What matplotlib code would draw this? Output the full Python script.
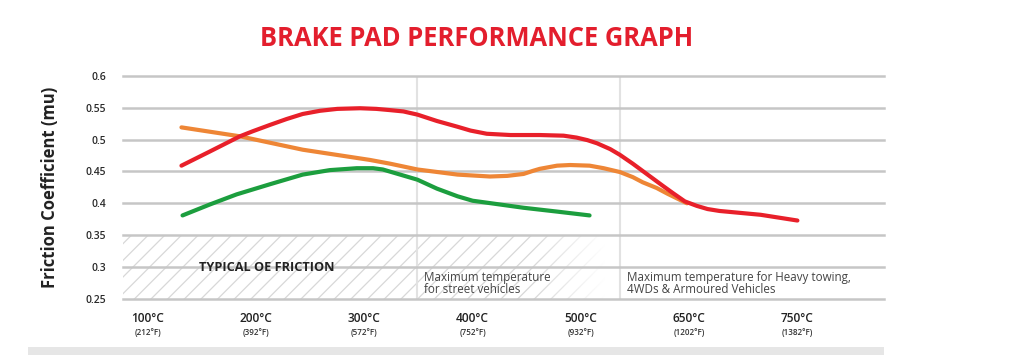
import numpy as np
import matplotlib
matplotlib.use("Agg")
import matplotlib.pyplot as plt
from matplotlib.patches import Rectangle

# ---- data (x = category position index, 0 = 100°C ... 6 = 750°C) ----
temps_c = ["100°C", "200°C", "300°C", "400°C", "500°C", "650°C", "750°C"]
temps_f = ["(212°F)", "(392°F)", "(572°F)", "(752°F)", "(932°F)", "(1202°F)", "(1382°F)"]
y_ticks = [0.25, 0.3, 0.35, 0.4, 0.45, 0.5, 0.55, 0.6]
y_tick_labels = ["0.25", "0.3", "0.35", "0.4", "0.45", "0.5", "0.55", "0.6"]

red_x = [0.31, 0.57, 0.85, 0.97, 1.13, 1.28, 1.43, 1.59, 1.75, 1.96, 2.11, 2.24, 2.36,
         2.49, 2.67, 2.86, 2.98, 3.13, 3.35, 3.62, 3.84, 3.96, 4.06, 4.15, 4.27, 4.36,
         4.48, 4.64, 4.76, 4.85, 4.96, 5.07, 5.17, 5.28, 5.66, 6.00]
red_y = [0.459, 0.481, 0.505, 0.513, 0.523, 0.532, 0.540, 0.545, 0.548, 0.549, 0.548, 0.546, 0.544,
         0.539, 0.529, 0.520, 0.514, 0.509, 0.507, 0.507, 0.506, 0.503, 0.499, 0.494, 0.485, 0.476,
         0.462, 0.442, 0.427, 0.416, 0.403, 0.396, 0.391, 0.388, 0.382, 0.373]

orange_x = [0.31, 0.85, 1.43, 2.05, 2.24, 2.49, 2.86, 3.16, 3.32, 3.47, 3.56, 3.62, 3.78,
            3.90, 4.08, 4.21, 4.36, 4.48, 4.57, 4.70, 4.80, 4.98]
orange_y = [0.519, 0.505, 0.484, 0.468, 0.462, 0.453, 0.445, 0.442, 0.443, 0.446, 0.451, 0.454, 0.459,
            0.460, 0.459, 0.455, 0.449, 0.441, 0.433, 0.424, 0.415, 0.400]

green_x = [0.32, 0.57, 0.82, 1.13, 1.43, 1.68, 1.93, 2.08, 2.17, 2.33, 2.49, 2.67, 2.86,
           3.00, 3.13, 3.47, 3.78, 4.08]
green_y = [0.381, 0.398, 0.414, 0.430, 0.445, 0.452, 0.455, 0.455, 0.453, 0.445, 0.437, 0.423, 0.411,
           0.404, 0.401, 0.393, 0.387, 0.381]

oe_band = (0.25, 0.35)
street_limit_x = 2.49
heavy_limit_x = 4.36

RED = "#e8202a"
ORANGE = "#ee8636"
GREEN = "#1c9e3e"

plt.rcParams['font.family'] = ['Open Sans', 'DejaVu Sans']
plt.rcParams['hatch.linewidth'] = 0.9

fig = plt.figure(figsize=(10.24, 3.55), dpi=100)
fig.patch.set_facecolor("white")

W, H = 1024, 355
left_px, right_px = 123, 884
top_px, bot_px = 75.7, 299.0
ax = fig.add_axes([left_px / W, 1 - bot_px / H, (right_px - left_px) / W, (bot_px - top_px) / H])
for s in ax.spines.values():
    s.set_visible(False)
ax.set_facecolor("none")

# horizontal grid
for yv in y_ticks:
    ax.axhline(yv, color="#c6c6c6", lw=1.8, zorder=3, clip_on=False)
# vertical limits
for xv in (street_limit_x, heavy_limit_x):
    ax.axvline(xv, color="#e2e2e2", lw=1.5, zorder=1)

# hatched OE band
rect = Rectangle((-0.23, oe_band[0]), 4.45, oe_band[1] - oe_band[0], facecolor="none",
                 edgecolor="#d8d8d8", hatch="//", lw=0, zorder=0.5)
ax.add_patch(rect)
# fade at right end of band
grad = np.ones((2, 256, 4))
grad[..., 3] = np.linspace(0, 1, 256)[None, :]
ax.imshow(grad, extent=(3.55, 4.22, oe_band[0], oe_band[1]), aspect="auto", zorder=0.8,
          interpolation="bilinear")
ax.set_xlim(-0.23, 6.80)
ax.set_ylim(0.25, 0.6)

# curves
kw = dict(lw=3.0, solid_capstyle="round", solid_joinstyle="round")
ax.plot(green_x, green_y, color=GREEN, zorder=5, **kw)
ax.plot(orange_x, orange_y, color=ORANGE, zorder=6, **kw)
ax.plot(red_x, red_y, color=RED, zorder=7, **kw)

# y ticks
ax.set_yticks(y_ticks)
ax.set_yticklabels(y_tick_labels, fontsize=7.5, color="#2a2a2a", fontweight="semibold")
ax.tick_params(axis="y", length=0, pad=12)
ax.set_xticks([])

# x tick labels (two-line)
for i, (c, f) in enumerate(zip(temps_c, temps_f)):
    ax.text(i, -0.060, c, transform=ax.get_xaxis_transform(), ha="center", va="top",
            fontsize=8.6, color="#222222", fontweight="semibold")
    ax.text(i, -0.128, f, transform=ax.get_xaxis_transform(), ha="center", va="top",
            fontsize=5.8, color="#333333", fontweight="semibold")

# annotations
ax.text(1.10, 0.300, "TYPICAL OE FRICTION", ha="center", va="center", fontsize=9.2,
        fontweight="bold", color="#222222", zorder=8)
ax.text(street_limit_x + 0.06, 0.2745, "Maximum temperature\nfor street vehicles", ha="left",
        va="center", fontsize=8.4, color="#444444", linespacing=0.95, zorder=8)
ax.text(heavy_limit_x + 0.07, 0.2745, "Maximum temperature for Heavy towing,\n4WDs & Armoured Vehicles",
        ha="left", va="center", fontsize=8.4, color="#444444", linespacing=0.95, zorder=8)

# y label
fig.text(50 / W, 1 - 187 / H, "Friction Coefficient (mu)", rotation=90, ha="center", va="center",
         fontsize=12, fontweight="bold", color="#222222")

# title
fig.text(477 / W, 1 - 38 / H, "BRAKE PAD PERFORMANCE GRAPH", ha="center", va="center",
         fontsize=18.4, fontweight="bold", color="#e31e2d")

# bottom grey strip
fig.patches.append(Rectangle((28 / W, 0), (884 - 28) / W, 8 / H, transform=fig.transFigure,
                             facecolor="#e6e6e6", edgecolor="none"))

fig.savefig("out.png", dpi=100, facecolor="white")
